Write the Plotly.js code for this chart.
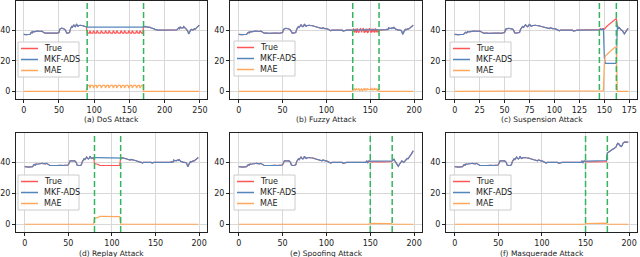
<!DOCTYPE html>
<html>
<head>
<meta charset="utf-8">
<script src="https://cdn.plot.ly/plotly-3.0.1.min.js"></script>
<style>html,body{margin:0;padding:0;background:#fff;}#chart{width:640px;height:257px;}</style>
</head>
<body>
<div id="chart"></div>
<script>
// ---------- DATA ----------
const panelTitles = ["(a) DoS Attack", "(b) Fuzzy Attack", "(c) Suspension Attack",
                     "(d) Replay Attack", "(e) Spoofing Attack", "(f) Masquerade Attack"];
const seriesNames = ["True", "MKF-ADS", "MAE"];

// common normal signal, indices 0..149
const headTrue = [
 37.2,37,37,37.1,37,37,37.2,37,37.1,37.3,
 38,38.6,38.2,39,38.8,39,39.2,39,39.1,39.3,
 39.4,39.2,39.5,39.3,39.1,39.4,39,38.6,38.2,38,
 38,38.1,38,38,37.9,38,38,38.1,38,38,
 38,38,38.1,38,38,38,37.9,38,38,38.2,
 38.4,40.5,41,41,41.2,41,41,41.1,40.6,40,
 38.3,38,38,38,38.1,38.4,40.5,42,42.3,41.8,
 42.5,43.5,42.6,42.2,42.8,44,42.8,42.5,43,43.2,
 43,43.1,43,43,42.9,42.8,42.5,42.3,42,42,
 41.8,41.6,41.5,41.3,41.2,41,41.6,41.2,41,41,
 41,40.8,40.5,40.2,40,39.6,40,40,39.8,40,
 40,40,40,40.1,40,40,40,40,40,39.4,
 39.6,40,40,40,40,40,40,40,40,40,
 40,40,40,40,40,40,40,40,40,40,
 40,40,40,40,40.3,40,41,39.6,40.8,41
];

// (a) DoS: attack 90..169, tail 170..249
const dosWindow = [90, 170];
const dosAttackTrue = [
 38.3,38,38,38,39.7,38,38,38,38,39.7,
 38,38,38,38,39.7,38,38,38,38,38,
 39.7,38,38,38,38,38,39.7,38,38,38,
 38,39.7,38,38,38,38,38,39.7,38,38,
 38,38,39.7,38,38,38,38,38,39.7,38,
 38,38,38,39.7,38,38,38,38,38,39.7,
 38,38,38,38,39.7,38,38,38,38,38,
 39.7,38,38,38,38,39.7,38,38,38,38
];
const dosAttackPred = [
 41.9,41.9,41.9,41.9,41.9,41.9,41.9,41.9,41.9,41.9,
 41.9,41.9,41.9,41.9,41.9,41.9,41.9,41.9,41.9,41.9,
 41.9,41.9,41.9,41.9,41.9,41.9,41.9,41.9,41.9,41.9,
 41.9,41.9,41.9,41.9,41.9,41.9,41.9,41.9,41.9,41.9,
 41.9,41.9,41.9,41.9,41.9,41.9,41.9,41.9,41.9,41.9,
 41.9,41.9,41.9,41.9,41.9,41.9,41.9,41.9,41.9,41.9,
 41.9,41.9,41.9,41.9,41.9,41.9,41.9,41.9,41.9,41.9,
 41.9,41.9,41.9,41.9,41.9,41.9,41.9,41.9,41.9,41.9
];
const dosTailTrue = [
 42.5,42.3,42,42.4,42.1,42,41.8,42,41.6,41.8,
 41.5,41.4,41.2,41.3,41,40.8,40.5,40.5,40.3,40.2,
 40,40,40,40,40,40,40,40,40,39.8,
 40,40,40,40,40,40,40,40,40,40,
 40,40,40,40,40,40,40,40.2,40.5,40.8,
 41.5,41,42.2,41.4,41.5,41.6,41.4,42.3,41.5,41,
 40.8,40.5,40,39,37.5,38.8,40,40.3,40.5,40,
 40,40.3,40.8,40.5,41,41.2,41.5,42,42.5,43.2
];

// (b) Fuzzy: attack 130..159, tail 160..199
const fuzzyWindow = [130, 160];
const fuzzyAttackTrue = [
 39.5,41,38.5,40.8,38.2,41.2,39,38.3,40.5,41,
 38.5,39.8,41.3,38.2,40.7,38.6,41,38.4,38.8,41.2,
 39,38.3,41,38.5,40.8,38.3,41.2,38.6,40.5,38.4
];
const fuzzyAttackPred = [
 40.1,40.2,40.1,40.2,40.1,40.2,40.1,40.2,40.1,40.2,
 40.1,40.2,40.1,40.2,40.1,40.2,40.1,40.2,40.1,40.2,
 40.1,40.2,40.1,40.2,40.1,40.2,40.1,40.2,40.1,40.2
];
// shared end segment 160..199 (panels b and d)
const tail160True = [
 40,40,40,40,40,40,40,40,40.3,40.5,
 40.2,41.5,41,41.2,41,41.5,41.2,41.8,41,40.6,
 40.5,40,40,40,40,39.8,39,37.2,38.5,39.5,
 40.5,40.2,40.8,41,40.8,41.2,41.5,42,42.5,43.2
];

// (c) Suspension: attack 145..162, tail 163..174
const suspWindow = [145, 162];
const suspAttackTrue = [40.3,41,40.2,40.8,41,40.6,41.5,42,42.8,43.3,43.8,44.5,45,45.8,46.3,46.8,47.3,47.6];
const suspAttackPred = [40.1,40.6,40.3,40.5,40.7,21.5,18.3,18.3,18.3,18.3,18.3,18.3,18.3,18.3,18.3,18.3,18.3,18.3];
const suspTailTrue = [43,41,41.5,40.5,40,39.8,39,37.5,38.5,40,40.5,41];

// (d) Replay: attack 80..109, then 110..159, then shared 160..199
const replayWindow = [80, 110];
const replayAttackTrue = [
 39.3,39,38.8,38.8,38.8,38.2,38,38,38,38,
 38,38,38,38,38,38,38,38,38,38,
 38,38,38,38,38,38,38,38,38,38.1
];
const replayAttackPred = [
 43.1,43.1,43.1,43.1,43.1,43.1,43.1,43.1,43.1,43.1,
 43.1,43.1,43.1,43.1,43.1,43.1,43.1,43.1,43.1,43.1,
 43.1,43.1,43.1,43.1,43.1,43.1,43.1,43.1,43.1,43.1
];
const replayMidTrue = [
 43,43.1,43,42.9,42.7,42.5,42.3,42,42,41.8,
 41.6,41.5,42,41.7,41.5,41.5,41.4,41.2,41,40.6,
 40.3,40,40,40,40,39.6,40,40,40,40,
 40,40,40,40,40,40,39.5,40,40,40,
 40,40,40,40,40,39.6,40,40,40,40
];

// (e) Spoofing: attack 150..174, tail 175..199
const spoofWindow = [150, 175];
const spoofAttackTrue = [
 40.3,40.2,40.3,40.3,40.2,40.3,40.3,40.2,40.3,40.3,
 40.2,40.3,40.3,40.3,40.2,40.3,40.3,40.2,40.3,40.3,
 40.2,40.3,40.3,40.3,40.4
];
const spoofAttackPred = [
 40.9,40.8,40.8,40.8,40.8,40.8,40.8,40.9,40.8,40.8,
 40.8,40.8,40.8,40.8,40.8,40.9,40.8,40.8,40.8,40.8,
 40.8,40.8,40.9,40.8,40.8
];
const spoofTailTrue = [
 41,41.5,42,41,40,39,38.5,37.5,38.5,39.5,
 40.5,41,40.5,40,40.5,41,41.8,42.5,42.3,43,
 43.5,44.5,45.5,46.5,47.5
];

// (f) Masquerade: attack 150..174, tail 175..199
const masqWindow = [150, 175];
const masqAttackTrue = [
 40.3,40.3,40.2,40.3,40.3,40.2,40.3,40.3,40.3,40.2,
 40.3,40.3,40.2,40.3,40.3,40.3,40.2,40.3,40.3,40.2,
 40.3,40.3,40.3,40.4,40.5
];
const masqAttackPred = [
 40.8,40.8,40.8,40.9,40.8,40.8,40.8,40.8,40.8,40.8,
 40.9,40.8,40.8,40.8,40.8,40.8,40.8,40.9,40.8,40.8,
 40.8,40.8,40.8,40.8,41.2
];
const masqTailTrue = [
 46,46.5,47,47.3,47.5,48,48.5,48.7,49,49.3,
 50,51.5,52.3,52,51,50.5,50.3,51,52.5,53,
 53.2,53.1,53,53.2,53.1
];

// ---------- assemble series ----------
const panels = [
  { t: [...headTrue.slice(0,90), ...dosAttackTrue, ...dosTailTrue],
    p: [...headTrue.slice(0,90), ...dosAttackPred, ...dosTailTrue], w: dosWindow, xr: [-11, 260], dt: 50 },
  { t: [...headTrue.slice(0,130), ...fuzzyAttackTrue, ...tail160True],
    p: [...headTrue.slice(0,130), ...fuzzyAttackPred, ...tail160True], w: fuzzyWindow, xr: [-10, 209], dt: 50 },
  { t: [...headTrue.slice(0,145), ...suspAttackTrue, ...suspTailTrue],
    p: [...headTrue.slice(0,145), ...suspAttackPred, ...suspTailTrue], w: suspWindow, xr: [-8.7, 182.7], dt: 25 },
  { t: [...headTrue.slice(0,80), ...replayAttackTrue, ...replayMidTrue, ...tail160True],
    p: [...headTrue.slice(0,80), ...replayAttackPred, ...replayMidTrue, ...tail160True], w: replayWindow, xr: [-10, 209], dt: 50 },
  { t: [...headTrue, ...spoofAttackTrue, ...spoofTailTrue],
    p: [...headTrue, ...spoofAttackPred, ...spoofTailTrue], w: spoofWindow, xr: [-10, 209], dt: 50 },
  { t: [...headTrue, ...masqAttackTrue, ...masqTailTrue],
    p: [...headTrue, ...masqAttackPred, ...masqTailTrue], w: masqWindow, xr: [-10, 209], dt: 50 }
];

// ---------- layout geometry ----------
const W = 640, H = 257;
const colPx = [[16, 207], [230, 422], [446, 637]];
const rowPx = [[1, 99], [133, 232]];
const legendPos = [[18, 42], [234, 41], [450, 42], [18, 175], [234, 175], [450, 175]];
const titleY = [119.5, 253];
const colors = { t: "rgb(255,85,85)", p: "rgb(84,134,190)", m: "rgb(255,168,92)" };
const seriesColors = [colors.t, colors.p, colors.m];
const font = "DejaVu Sans, Arial, sans-serif";

const data = [];
const layout = {
  width: W, height: H, margin: { l: 0, r: 0, t: 0, b: 0 },
  paper_bgcolor: "#fff", plot_bgcolor: "#fff", showlegend: false,
  font: { family: font, size: 8, color: "#222" },
  shapes: [], annotations: []
};
const px = v => v / W, py = v => 1 - v / H;

panels.forEach((pn, i) => {
  const k = i + 1, sfx = k === 1 ? "" : String(k);
  const col = i % 3, row = Math.floor(i / 3);
  const n = pn.t.length;
  const x = Array.from({ length: n }, (_, j) => j);
  const mae = pn.t.map((v, j) => Math.abs(v - pn.p[j]));
  const xa = "x" + sfx, ya = "y" + sfx;
  [pn.t, pn.p, mae].forEach((ys, s) => {
    data.push({ x, y: ys, name: seriesNames[s], type: "scatter", mode: "lines", xaxis: xa, yaxis: ya,
                line: { color: seriesColors[s], width: 1.2 } });
  });

  const axCommon = { showline: true, mirror: true, linecolor: "#222", linewidth: 1,
                     ticks: "outside", ticklen: 3, tickwidth: 1, tickcolor: "#222",
                     showgrid: true, gridcolor: "#d8d8d8", gridwidth: 1, zeroline: false,
                     tickfont: { size: 8, color: "#222", family: font } };
  layout["xaxis" + sfx] = Object.assign({}, axCommon, {
    domain: [px(colPx[col][0]), px(colPx[col][1])], anchor: ya,
    range: pn.xr, tick0: 0, dtick: pn.dt });
  layout["yaxis" + sfx] = Object.assign({}, axCommon, {
    domain: [py(rowPx[row][1]), py(rowPx[row][0])], anchor: xa,
    range: [-5, 59], tick0: 0, dtick: 20 });

  pn.w.forEach(xv => {
    layout.shapes.push({ type: "line", xref: xa, yref: ya + " domain", x0: xv, x1: xv, y0: 0, y1: 1,
                         line: { color: "#33b55f", width: 1.5, dash: "6px,3px" } });
  });

  // legend box (drawn by hand for compact matplotlib-like spacing)
  const [lx, ly] = legendPos[i];
  layout.shapes.push({ type: "rect", xref: "paper", yref: "paper",
    x0: px(lx), x1: px(lx + 61), y0: py(ly + 35), y1: py(ly),
    fillcolor: "rgba(255,255,255,0.85)", line: { color: "#cccccc", width: 1 } });
  seriesNames.forEach((nm, s) => {
    const yy = ly + 6.5 + s * 11;
    layout.shapes.push({ type: "line", xref: "paper", yref: "paper",
      x0: px(lx + 3), x1: px(lx + 20), y0: py(yy), y1: py(yy),
      line: { color: seriesColors[s], width: 1.5 } });
    layout.annotations.push({ text: nm, xref: "paper", yref: "paper", x: px(lx + 24), y: py(yy),
      xanchor: "left", yanchor: "middle", showarrow: false,
      font: { size: 8, color: "#222", family: font } });
  });

  layout.annotations.push({ text: panelTitles[i], xref: "paper", yref: "paper",
    x: px((colPx[col][0] + colPx[col][1]) / 2), y: py(titleY[row]),
    xanchor: "center", yanchor: "middle", showarrow: false, borderpad: 0,
    font: { size: 7.5, color: "#222", family: font } });
});

Plotly.newPlot("chart", data, layout, { staticPlot: true, displayModeBar: false });
</script>
</body>
</html>
